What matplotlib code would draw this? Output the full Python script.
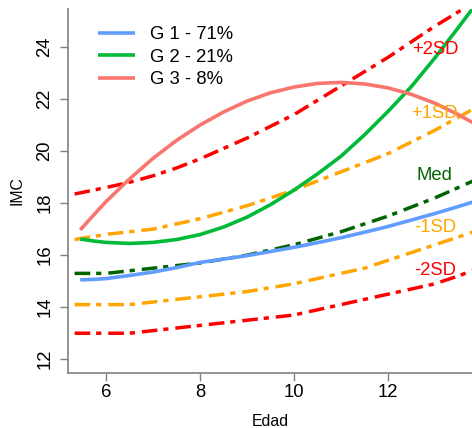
import matplotlib
matplotlib.use("Agg")
import matplotlib.pyplot as plt

plt.rcParams['font.family'] = ['Liberation Sans', 'DejaVu Sans']

# reference curves (median and SD lines)
ref_age = [5.33, 6, 6.5, 7, 7.5, 8, 8.5, 9, 9.5, 10, 10.5, 11, 11.5, 12, 12.5, 13, 13.5, 14]
m2sd = [13.0, 13.0, 13.0, 13.1, 13.2, 13.3, 13.4, 13.5, 13.6, 13.7, 13.9, 14.1, 14.3, 14.5, 14.7, 14.9, 15.2, 15.55]
m1sd = [14.1, 14.1, 14.1, 14.2, 14.3, 14.4, 14.5, 14.6, 14.75, 14.9, 15.1, 15.3, 15.5, 15.8, 16.1, 16.4, 16.7, 17.0]
med = [15.3, 15.3, 15.4, 15.5, 15.6, 15.7, 15.85, 16.0, 16.2, 16.4, 16.65, 16.9, 17.2, 17.5, 17.85, 18.2, 18.6, 19.0]
p1sd = [16.6, 16.8, 16.9, 17.0, 17.2, 17.4, 17.65, 17.9, 18.2, 18.5, 18.85, 19.2, 19.55, 19.9, 20.35, 20.8, 21.3, 21.8]
p2sd = [18.35, 18.6, 18.8, 19.05, 19.35, 19.7, 20.1, 20.5, 20.95, 21.4, 21.95, 22.5, 23.05, 23.6, 24.2, 24.8, 25.35, 25.9]

# group trajectories
grp_age = [5.45, 5.75, 6, 6.5, 7, 7.5, 8, 8.5, 9, 9.5, 10, 10.5, 11, 11.5, 12, 12.5, 13, 13.5, 14]
g1 = [15.05, 15.07, 15.1, 15.22, 15.35, 15.52, 15.72, 15.85, 15.98, 16.14, 16.3, 16.48, 16.67, 16.88, 17.1, 17.35, 17.6, 17.87, 18.15]
g2 = [16.62, 16.54, 16.49, 16.45, 16.49, 16.6, 16.79, 17.08, 17.46, 17.94, 18.5, 19.12, 19.8, 20.62, 21.52, 22.48, 23.58, 24.75, 25.95]
g3 = [16.97, 17.57, 18.06, 18.93, 19.72, 20.41, 21.0, 21.5, 21.92, 22.24, 22.46, 22.6, 22.64, 22.58, 22.43, 22.18, 21.84, 21.4, 20.9]

grp_labels = ['G 1 - 71%', 'G 2 - 21%', 'G 3 - 8%']
grp_colors = ['#619CFF', '#00BA38', '#F8766D']

ref_labels = ['+2SD', '+1SD', 'Med', '-1SD', '-2SD']
ref_colors = ['red', 'orange', 'darkgreen', 'orange', 'red']
ref_label_y = [23.9, 21.43, 19.05, 17.08, 15.42]

fig = plt.figure(figsize=(4.72, 4.28), dpi=100)
ax = fig.add_axes([68 / 472, 1 - 373.3 / 428, 1 - 68 / 472, 364.3 / 428])

dd = (4.5, 1.7, 1.5, 2.0)
for ys, c in zip([p2sd, p1sd, med, m1sd, m2sd], ref_colors):
    ax.plot(ref_age, ys, color=c, lw=2.5, dashes=dd)

lines = []
for ys, c, lab in zip([g1, g2, g3], grp_colors, grp_labels):
    l, = ax.plot(grp_age, ys, color=c, lw=2.6, label=lab, solid_capstyle='butt')
    lines.append(l)

for lab, c, y in zip(ref_labels, ref_colors, ref_label_y):
    ax.text(13.0, y, lab, color=c, fontsize=13.3, ha='center', va='center')

ax.set_xlim(5.19, 13.79)
ax.set_ylim(11.46, 25.46)
ax.set_xticks([6, 8, 10, 12])
ax.set_yticks([12, 14, 16, 18, 20, 22, 24])

for s in ['top', 'right']:
    ax.spines[s].set_visible(False)
for s in ['left', 'bottom']:
    ax.spines[s].set_color('#808080')
    ax.spines[s].set_linewidth(1.2)

ax.tick_params(axis='both', direction='out', length=5.5, width=1, color='#808080',
               labelsize=13.3, labelcolor='black')
ax.tick_params(axis='y', pad=5)
ax.tick_params(axis='x', pad=2.5)
for t in ax.get_yticklabels():
    t.set_rotation(90)
    t.set_va('center')

fig.text(17 / 472, 1 - 191 / 428, 'IMC', rotation=90, ha='center', va='center', fontsize=11.4)
fig.text(270 / 472, 1 - 421.7 / 428, 'Edad', ha='center', va='center', fontsize=11.4)

ax.legend(handles=lines, loc='upper left', bbox_to_anchor=(30 / 404, 0.952),
          frameon=False, fontsize=13.3, borderaxespad=0, borderpad=0,
          handlelength=2.0, handletextpad=0.8, labelspacing=0.29)

fig.savefig('out.png', dpi=100)
